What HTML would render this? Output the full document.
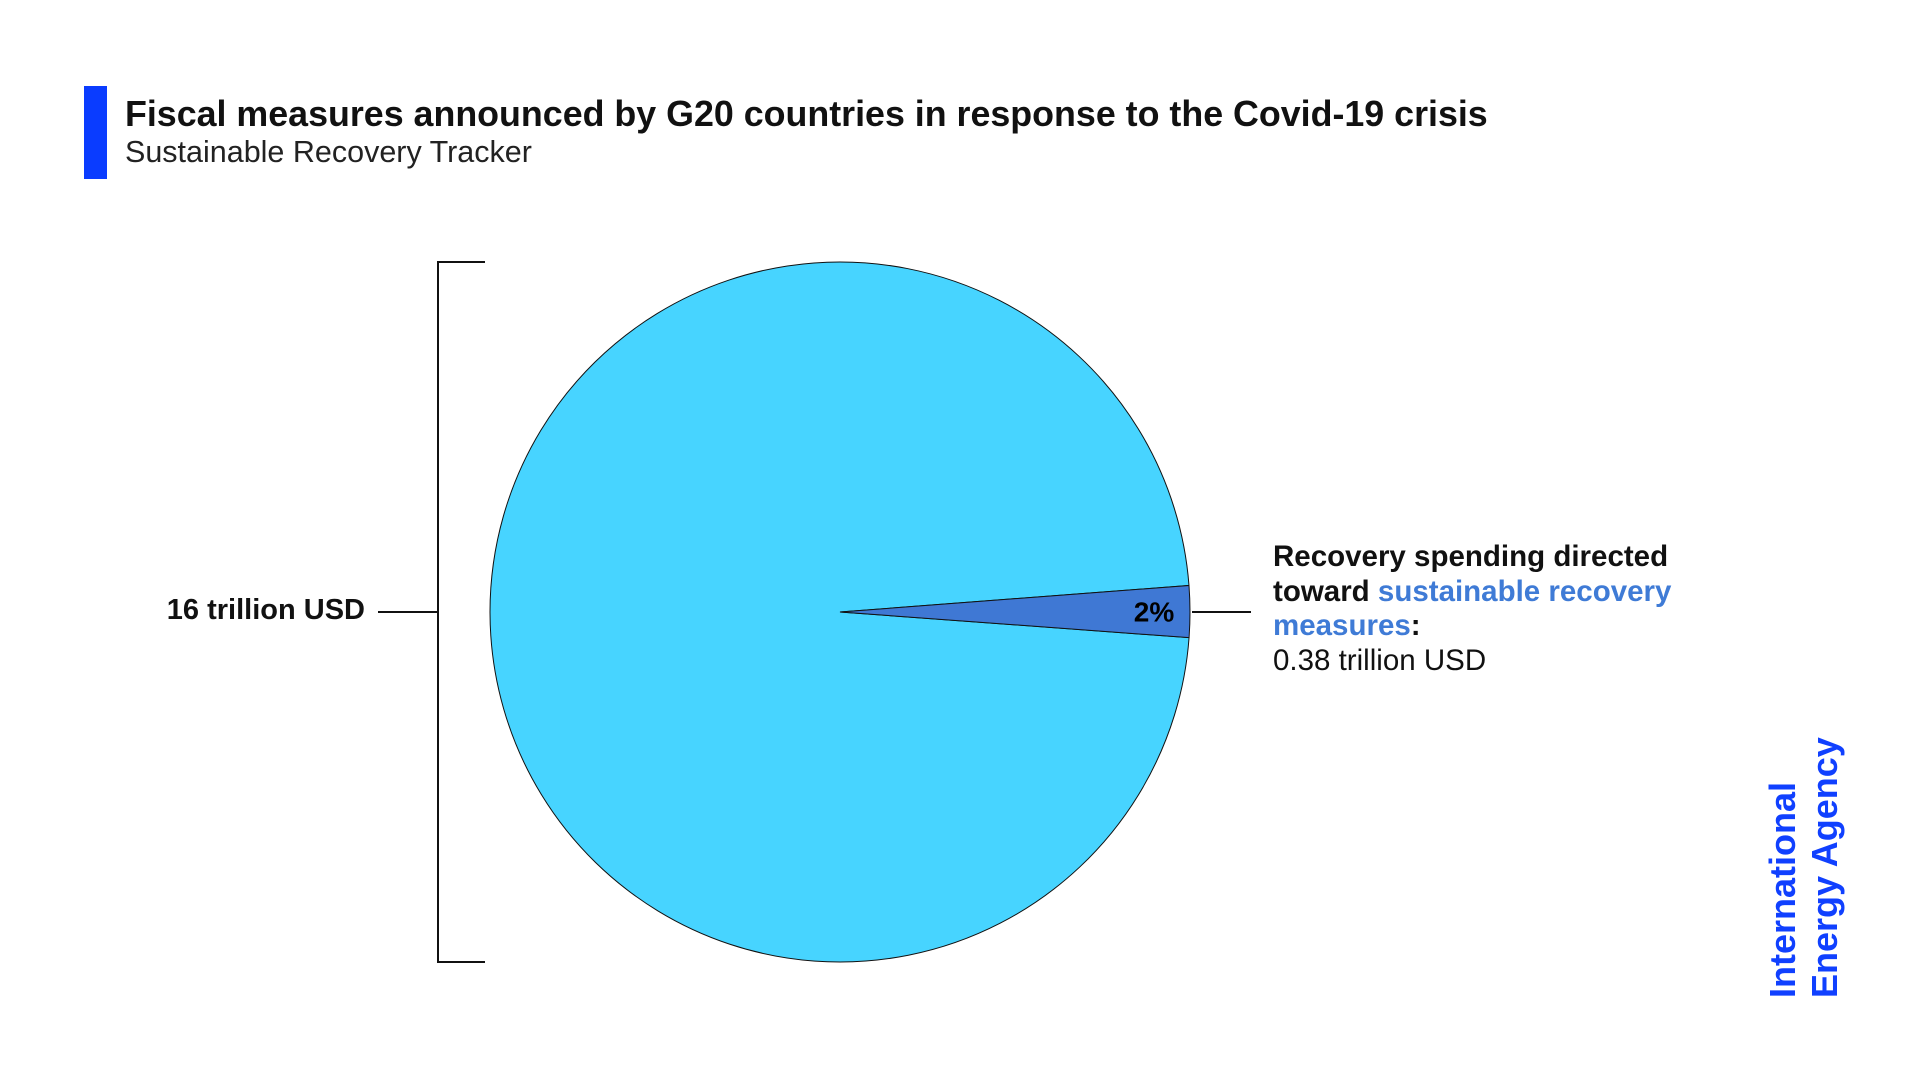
<!DOCTYPE html>
<html><head><meta charset="utf-8"><style>
body{margin:0;width:1920px;height:1080px;background:#fff;font-family:"Liberation Sans",sans-serif;overflow:hidden;position:relative}
.a{position:absolute;white-space:nowrap}
</style></head><body>
<div class="a" style="left:84px;top:86px;width:23px;height:93px;background:#0a3cff"></div>
<div class="a" style="left:125px;top:94px;font-size:35.8px;font-weight:bold;color:#111">Fiscal measures announced by G20 countries in response to the Covid-19 crisis</div>
<div class="a" style="left:125px;top:135px;font-size:30.5px;color:#222">Sustainable Recovery Tracker</div>
<svg id="chart" class="a" style="left:0;top:0" width="1920" height="1080">
<g stroke="#111" stroke-width="2" fill="none">
<path d="M485 262 H438 V962 H485"/><path d="M378 612 H438"/><path d="M1192 612 H1251"/>
</g>
<g id="slices"></g>
</svg>
<div class="a" style="right:1555px;top:594px;font-size:29px;font-weight:bold;color:#111">16 trillion USD</div>
<div class="a" style="left:1273px;top:540px;font-size:29.5px;line-height:34.5px;color:#111">
<b>Recovery spending directed<br>toward <span style="color:#3f7bd6">sustainable recovery<br>measures</span>:</b><br>0.38 trillion USD</div>
<div class="a" style="left:1762px;top:998px;transform-origin:0 0;transform:rotate(-90deg);font-size:36px;line-height:42px;color:#1040ff;font-weight:bold">International<br>Energy Agency</div>
<script>
const categories=["Other fiscal measures","Sustainable recovery measures"];
const values=[15.62,0.38];
const labels=["","2%"];
const colors=["#47d4ff","#3f78d4"];
const cx=840,cy=612,r=350,ns="http://www.w3.org/2000/svg";
const total=values.reduce((a,b)=>a+b,0);
const g=document.getElementById('slices');
let start=4.2*Math.PI/180;
for(let i=0;i<values.length;i++){
  const ang=values[i]/total*2*Math.PI,end=start+ang;
  const x1=cx+r*Math.cos(start),y1=cy+r*Math.sin(start),x2=cx+r*Math.cos(end),y2=cy+r*Math.sin(end);
  const p=document.createElementNS(ns,'path');
  p.setAttribute('d',`M${cx} ${cy} L${x1} ${y1} A${r} ${r} 0 ${ang>Math.PI?1:0} 1 ${x2} ${y2} Z`);
  p.setAttribute('fill',colors[i]);p.setAttribute('stroke','#111');p.setAttribute('stroke-width','1');
  
  
  g.appendChild(p);
  if(labels[i]){
    const mid=(start+end)/2,t=document.createElementNS(ns,'text');
    t.setAttribute('x',cx+(r-36)*Math.cos(mid));t.setAttribute('y',cy+(r-36)*Math.sin(mid)+10);
    t.setAttribute('text-anchor','middle');t.setAttribute('font-size','28');t.setAttribute('font-weight','bold');
    t.setAttribute('font-family','Liberation Sans, sans-serif');t.textContent=labels[i];
    
    
    g.appendChild(t);
  }
  start=end;
}
</script>
</body></html>
